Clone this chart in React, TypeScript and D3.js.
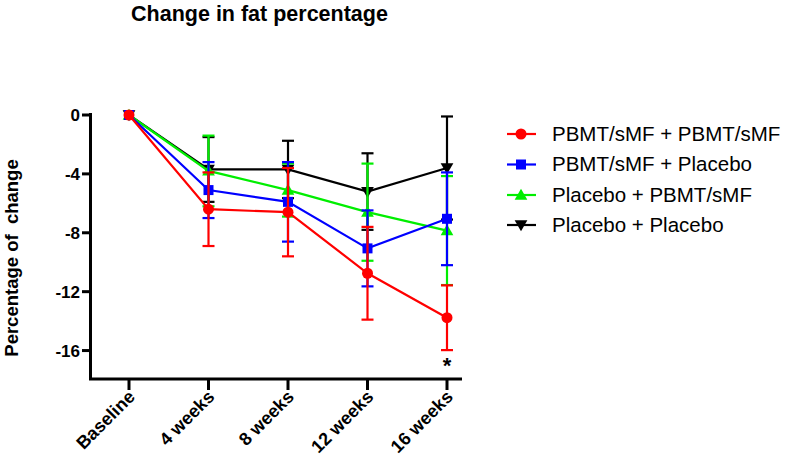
import React from "react";
import * as d3 from "d3";

const categories = ["Baseline", "4 weeks", "8 weeks", "12 weeks", "16 weeks"];
const yTicks = [0, -4, -8, -12, -16];

const seriesNames = [
  "PBMT/sMF + PBMT/sMF",
  "PBMT/sMF + Placebo",
  "Placebo + PBMT/sMF",
  "Placebo + Placebo",
];
const seriesColors = ["#ff0000", "#0000ff", "#00ee00", "#000000"];
const seriesMarkers = ["circle", "square", "triangle", "triangleDown"];

const redMean = [0, -6.4, -6.6, -10.75, -13.77];
const redErr = [0, 2.5, 3.0, 3.15, 2.2];
const blueMean = [0, -5.1, -5.9, -9.06, -7.05];
const blueErr = [0, 1.9, 2.7, 2.58, 3.15];
const greenMean = [0, -3.8, -5.1, -6.6, -7.85];
const greenErr = [0, 2.4, 1.8, 3.3, 3.7];
const blackMean = [0, -3.7, -3.7, -5.2, -3.6];
const blackErr = [0, 2.2, 1.95, 2.6, 3.5];

const means = [redMean, blueMean, greenMean, blackMean];
const errs = [redErr, blueErr, greenErr, blackErr];

const FONT = "'Liberation Sans', Arial, Helvetica, sans-serif";

function Marker({ type, x, y, color }: { type: string; x: number; y: number; color: string }) {
  if (type === "circle") return <circle cx={x} cy={y} r={5.5} fill={color} />;
  if (type === "square") return <rect x={x - 5} y={y - 5} width={10} height={10} fill={color} />;
  const sym = d3.symbol().type(d3.symbolTriangle).size(70)();
  if (type === "triangle")
    return <path d={sym || ""} transform={`translate(${x},${y + 1})`} fill={color} />;
  return <path d={sym || ""} transform={`translate(${x},${y - 1}) rotate(180)`} fill={color} />;
}

export default function App() {
  const W = 787;
  const H = 464;
  const x = d3.scalePoint<string>().domain(categories).range([129, 447]);
  const y = d3.scaleLinear().domain([-18, 0]).range([380, 115]);
  const line = d3
    .line<number>()
    .x((_, i) => x(categories[i]) as number)
    .y((d) => y(d));
  const order = [3, 2, 1, 0];
  const capW = 6;
  const legendY = [134, 164.5, 195, 225];

  return (
    <svg width={W} height={H} style={{ position: "absolute", left: 0, top: 0 }} fontFamily={FONT}>
      <rect width={W} height={H} fill="#fff" />
      <text x={259.5} y={20.5} textAnchor="middle" fontSize={21.5} fontWeight="bold">
        Change in fat percentage
      </text>
      <text
        transform={`translate(18,258) rotate(-90)`}
        textAnchor="middle"
        fontSize={18.5}
        fontWeight="bold"
        style={{ whiteSpace: "pre" }}
      >
        {"Percentage of  change"}
      </text>
      {/* axes */}
      <line x1={90.5} x2={90.5} y1={113} y2={380} stroke="#000" strokeWidth={3} />
      <line x1={89} x2={462} y1={379} y2={379} stroke="#000" strokeWidth={3} />
      {yTicks.map((t) => (
        <g key={t}>
          <line x1={82} x2={90} y1={y(t)} y2={y(t)} stroke="#000" strokeWidth={3} />
          <text x={80} y={y(t) + 6} textAnchor="end" fontSize={17} fontWeight="bold">
            {t}
          </text>
        </g>
      ))}
      {categories.map((c) => (
        <g key={c}>
          <line x1={x(c)} x2={x(c)} y1={379} y2={390} stroke="#000" strokeWidth={3} />
          <text
            transform={`translate(${(x(c) as number) + 7},${398}) rotate(-45)`}
            textAnchor="end"
            fontSize={18}
            fontWeight="bold"
          >
            {c}
          </text>
        </g>
      ))}
      {/* series */}
      {order.map((si) => {
        const color = seriesColors[si];
        return (
          <g key={si}>
            <path d={line(means[si]) || ""} fill="none" stroke={color} strokeWidth={2.2} />
            {means[si].map((m, i) => {
              const e = errs[si][i];
              const cx = x(categories[i]) as number;
              if (e === 0) return null;
              return (
                <g key={i}>
                  <line x1={cx} x2={cx} y1={y(m + e)} y2={y(m - e)} stroke={color} strokeWidth={2.2} />
                  <line x1={cx - capW} x2={cx + capW} y1={y(m + e)} y2={y(m + e)} stroke={color} strokeWidth={2.2} />
                  <line x1={cx - capW} x2={cx + capW} y1={y(m - e)} y2={y(m - e)} stroke={color} strokeWidth={2.2} />
                </g>
              );
            })}
            {means[si].map((m, i) => (
              <Marker key={i} type={seriesMarkers[si]} x={x(categories[i]) as number} y={y(m)} color={color} />
            ))}
          </g>
        );
      })}
      <text x={447} y={373} textAnchor="middle" fontSize={22} fontWeight="bold">
        *
      </text>
      {/* legend */}
      {seriesNames.map((n, i) => (
        <g key={n}>
          <line x1={507} x2={536} y1={legendY[i]} y2={legendY[i]} stroke={seriesColors[i]} strokeWidth={2.2} />
          <Marker type={seriesMarkers[i]} x={521} y={legendY[i]} color={seriesColors[i]} />
          <text x={552} y={legendY[i] + 6.5} fontSize={20.5} fill="#000">
            {n}
          </text>
        </g>
      ))}
    </svg>
  );
}
